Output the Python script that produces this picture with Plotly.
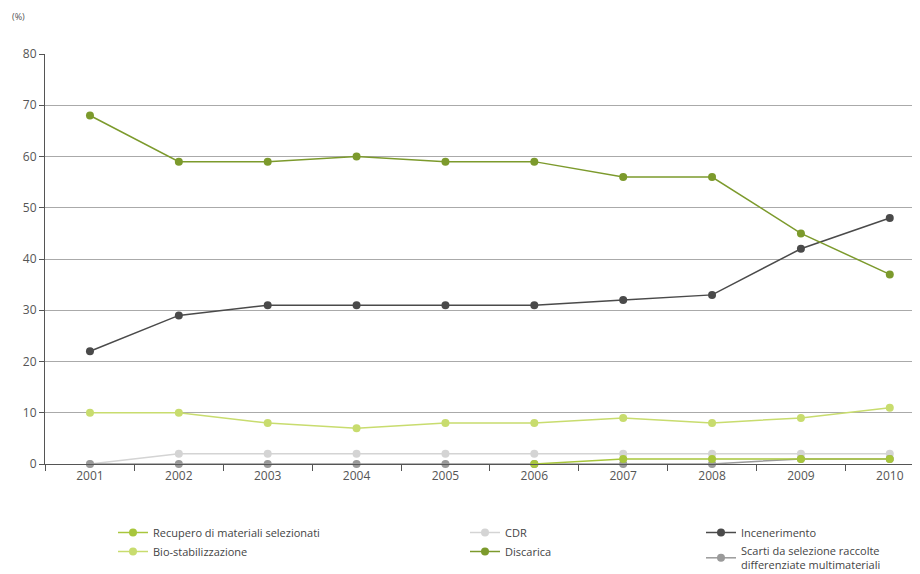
import plotly.graph_objects as go

years = [2001, 2002, 2003, 2004, 2005, 2006, 2007, 2008, 2009, 2010]
discarica = [68, 59, 59, 60, 59, 59, 56, 56, 45, 37]
incenerimento = [22, 29, 31, 31, 31, 31, 32, 33, 42, 48]
bio_stab = [10, 10, 8, 7, 8, 8, 9, 8, 9, 11]
cdr = [0, 2, 2, 2, 2, 2, 2, 2, 2, 2]
scarti = [0, 0, 0, 0, 0, 0, 0, 0, 1, 1]
recupero_years = [2006, 2007, 2008, 2009, 2010]
recupero = [0, 1, 1, 1, 1]
y_ticks = [0, 10, 20, 30, 40, 50, 60, 70, 80]

FONT = "Open Sans"
fig = go.Figure()

def add(name, x, y, color, legend, rank, lw=1.5):
    fig.add_trace(go.Scatter(
        x=x, y=y, name=name, mode="lines+markers",
        line=dict(color=color, width=lw),
        marker=dict(color=color, size=8),
        legend=legend, legendrank=rank, cliponaxis=False))

add("CDR", years, cdr, "#d4d4d4", "legend2", 1)
add("Scarti da selezione raccolte<br>differenziate multimateriali", years, scarti, "#9a9a9a", "legend3", 2)
add("Bio-stabilizzazione", years, bio_stab, "#c8dc6e", "legend", 2)
add("Recupero di materiali selezionati", recupero_years, recupero, "#a8c63c", "legend", 1)
add("Incenerimento", years, incenerimento, "#4a4a4a", "legend3", 1)
add("Discarica", years, discarica, "#7c9a2c", "legend2", 2)

# page body has an 8px margin; figure coords = screen coords - 8
OFF = 8
L, R, T, B = 45 - OFF, OFF, 54 - OFF, 574 - 464 + OFF
W = 920 - L - R
H = 574 - T - B

def lx(screen_px):
    return (screen_px - OFF - L) / W

def ly(screen_py):
    return 1 - (screen_py - OFF - T) / H

legend_common = dict(
    bgcolor="rgba(0,0,0,0)", font=dict(family=FONT, size=11, color="#444"),
    yanchor="top", xanchor="left", tracegroupgap=0, itemwidth=30,
    traceorder="normal")

fig.update_layout(
    width=920, height=574,
    margin=dict(l=L, r=R, t=T, b=B, autoexpand=False),
    plot_bgcolor="white", paper_bgcolor="white",
    font=dict(family=FONT, size=11, color="#555"),
    xaxis=dict(
        range=[2000.494, 2010.34], tickvals=years, ticktext=[str(y) for y in years],
        ticks="", showgrid=False, showline=True, linecolor="#555", linewidth=1.2,
        zeroline=False, tickfont=dict(size=12, color="#555"),
        minor=dict(ticks="outside", tick0=2000.5, dtick=1, ticklen=6,
                   tickcolor="#555", showgrid=False),
    ),
    yaxis=dict(
        range=[0, 80], tickvals=y_ticks, ticks="outside", ticklen=5, tickcolor="#555",
        showgrid=True, gridcolor="#aaaaaa", gridwidth=1,
        showline=True, linecolor="#555", linewidth=1.2, zeroline=False,
        tickfont=dict(size=12, color="#555"),
    ),
    legend=dict(x=lx(113), y=ly(518), **legend_common),
    legend2=dict(x=lx(465), y=ly(518), **legend_common),
    legend3=dict(x=lx(701), y=ly(518), **legend_common),
    annotations=[dict(text="(%)", xref="paper", yref="paper", x=lx(10), y=ly(17),
                      xanchor="left", yanchor="middle", showarrow=False,
                      font=dict(family=FONT, size=9, color="#555"))],
)

fig.write_html("out.html")
